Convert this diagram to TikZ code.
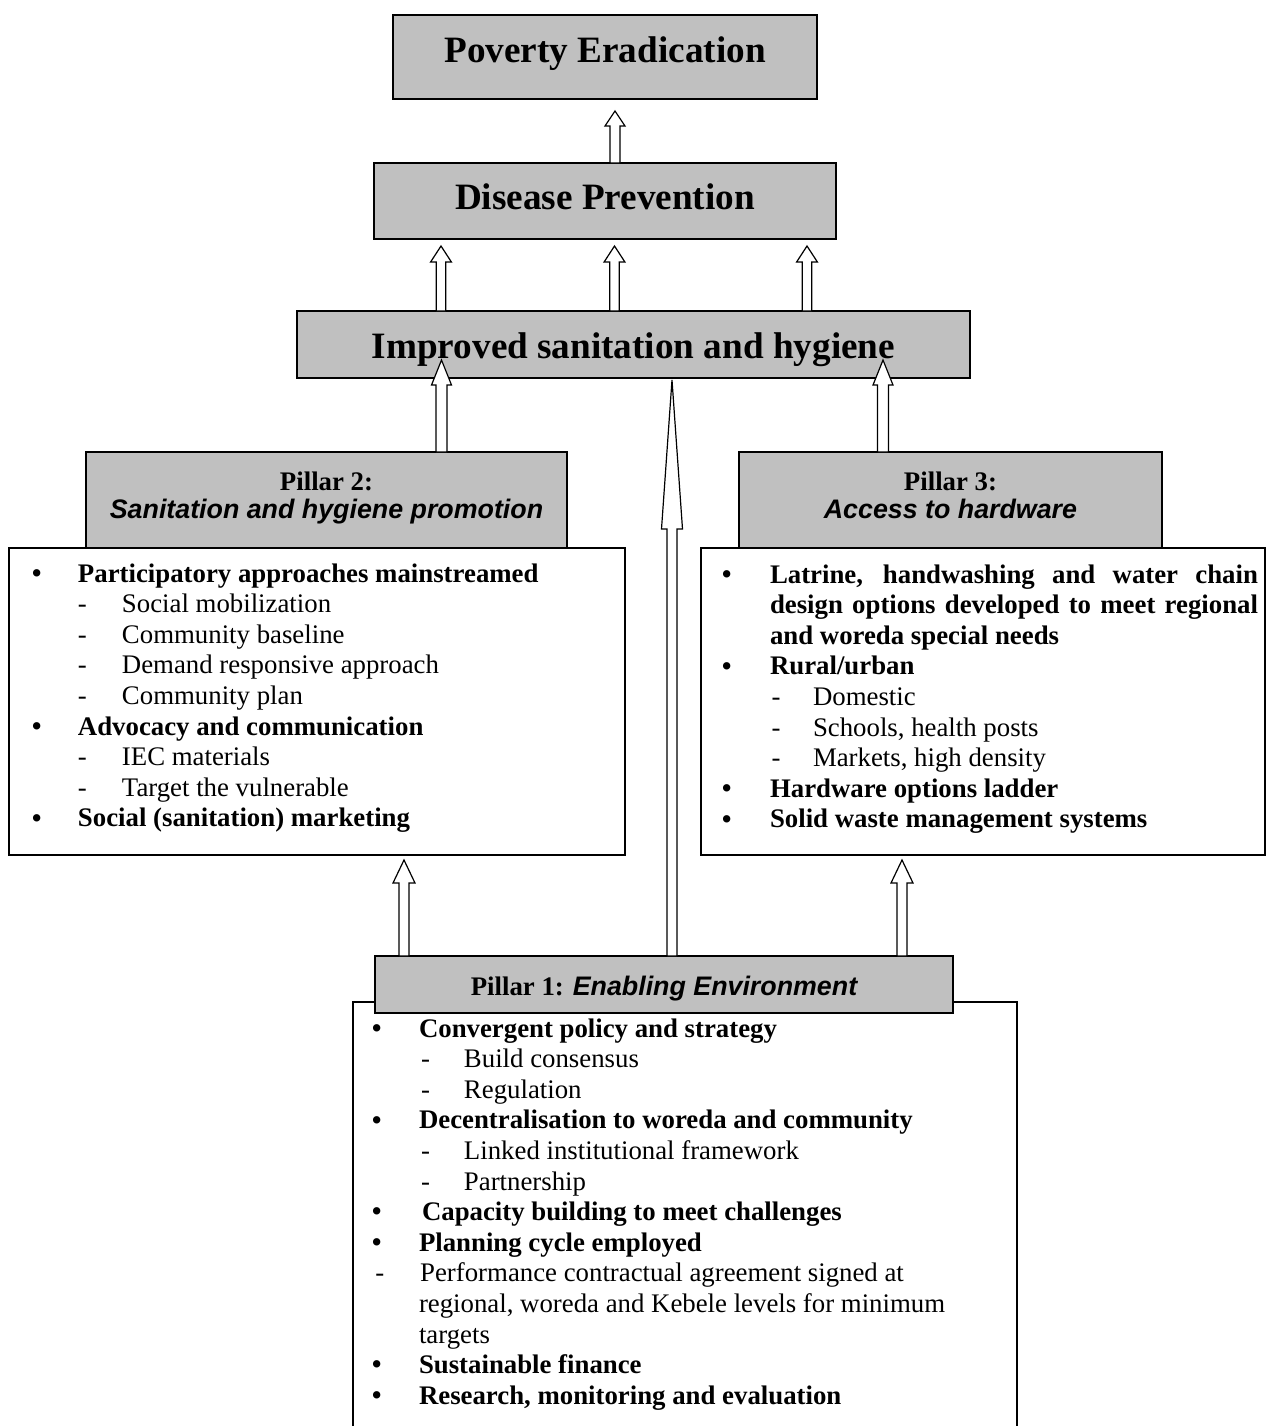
\documentclass[tikz,border=0pt]{standalone}
\usepackage{fontspec}
\usepackage{graphicx}
\setmainfont{Liberation Serif}
\newfontfamily\arialfam{Liberation Sans}
\usetikzlibrary{calc}

\definecolor{boxgray}{RGB}{192,192,192}

% list layout inside the framed boxes
\newlength\bulw   % bullet column
\newlength\dashw  % dash column
\newlength\dashoff
\newcommand\bigbul{\raisebox{-0.6pt}{\scalebox{1.15}{\textbullet}}}
\newcommand\bitem[1]{\par\leftskip=\bulw\noindent\llap{\makebox[\bulw][l]{\bigbul}}\textbf{#1}\par}
\newcommand\ditem[1]{\par\leftskip=\bulw\noindent\hspace*{\dashoff}\makebox[\dashw][l]{-}#1\par}
\newcommand\bodyfont{\fontsize{13.4pt}{15.3pt}\selectfont}
\newcommand\titlefont{\fontsize{18.6pt}{22pt}\selectfont\bfseries}
\newcommand\sansbi{\arialfam\bfseries\itshape}

\hyphenpenalty=10000
\exhyphenpenalty=10000
\tolerance=10000
\hbadness=10000
\lineskiplimit=-20pt

\begin{document}
\begin{tikzpicture}[x=0.5pt,y=-0.5pt,
  every node/.style={inner sep=0pt, outer sep=0pt},
  graybox/.style={draw=black, line width=0.7pt, fill=boxgray},
  whitebox/.style={draw=black, line width=0.7pt, fill=white},
  hollow/.style n args={3}{draw=black, line width=0.6pt, fill=white, line join=miter,
    to path={let \p1=(\tikztostart), \p2=(\tikztotarget) in
      (\x1-#3,\y1) -- (\x1-#3,\y2-#1) -- (\x1-#2,\y2-#1) -- (\x2,\y2)
      -- (\x1+#2,\y2-#1) -- (\x1+#3,\y2-#1) -- (\x1+#3,\y1) -- cycle}}]

\useasboundingbox (0,0) rectangle (1266,1426);
\clip (0,0) rectangle (1266,1426);

% ---- framed lists ----
\node[whitebox, anchor=north west, text height=17pt, text depth=136.5pt] (p2c) at (9,548)
  {\makebox[308pt][l]{\hspace*{11.15pt}\parbox[t]{285pt}{\bodyfont
   \setlength\bulw{23.35pt}\setlength\dashw{22pt}\setlength\dashoff{0pt}
   \bitem{Participatory approaches mainstreamed}
   \ditem{Social mobilization}
   \ditem{Community baseline}
   \ditem{Demand responsive approach}
   \ditem{Community plan}
   \bitem{Advocacy and communication}
   \ditem{IEC materials}
   \ditem{Target the vulnerable}
   \bitem{Social (sanitation) marketing}}}};

\node[whitebox, anchor=north west, text height=17.5pt, text depth=136pt] (p3c) at (701,548)
  {\makebox[282pt][l]{\hspace*{10.15pt}\parbox[t]{268.35pt}{\bodyfont
   \setlength\bulw{24.35pt}\setlength\dashw{20.65pt}\setlength\dashoff{0.85pt}
   \bitem{Latrine, handwashing and water chain\linebreak design options developed to meet regional\linebreak and woreda special needs}
   \bitem{Rural/urban}
   \ditem{Domestic}
   \ditem{Schools, health posts}
   \ditem{Markets, high density}
   \bitem{Hardware options ladder}
   \bitem{Solid waste management systems}}}};

\node[whitebox, anchor=north west, text height=17.5pt, text depth=201.5pt] (p1c) at (353,1002)
  {\makebox[332pt][l]{\hspace*{9.15pt}\parbox[t]{315pt}{\bodyfont
   \setlength\bulw{23.85pt}\setlength\dashw{21.5pt}\setlength\dashoff{1pt}
   \bitem{Convergent policy and strategy}
   \ditem{Build consensus}
   \ditem{Regulation}
   \bitem{Decentralisation to woreda and community}
   \ditem{Linked institutional framework}
   \ditem{Partnership}
   \bitem{\hspace*{1.5pt}Capacity building to meet challenges}
   \bitem{Planning cycle employed}
   \par\leftskip=\bulw\noindent\llap{\makebox[\bulw][l]{\hspace*{2pt}-}}\hspace*{0.6pt}Performance contractual agreement signed at\\
   regional, woreda and Kebele levels for minimum\\
   targets\par
   \bitem{Sustainable finance}
   \bitem{Research, monitoring and evaluation}}}};

% ---- grey headers ----
\node[graybox, anchor=north, minimum width=240.5pt, text height=33pt, text depth=15pt] (p2h) at (326.5,452)
  {\parbox[b]{240.5pt}{\centering\bodyfont\baselineskip=14pt
   \textbf{Pillar 2:}\\ {\sansbi Sanitation and hygiene promotion}}};

\node[graybox, anchor=north, minimum width=211.5pt, text height=33pt, text depth=15pt] (p3h) at (950.5,452)
  {\parbox[b]{211.5pt}{\centering\bodyfont\baselineskip=14pt
   \textbf{Pillar 3:}\\ {\sansbi Access to hardware}}};

\node[graybox, anchor=north, minimum width=289pt, text height=19.5pt, text depth=9pt] (p1h) at (664,956)
  {\bodyfont\textbf{Pillar 1:} {\sansbi Enabling Environment}};

% ---- outcome boxes ----
\node[graybox, anchor=north, minimum width=212pt, text height=23.5pt, text depth=18.5pt] (pov) at (605,15)
  {\titlefont Poverty Eradication};
\node[graybox, anchor=north, minimum width=231pt, text height=23pt, text depth=15pt] (dis) at (605,163)
  {\titlefont Disease Prevention};
\node[graybox, anchor=north, minimum width=336.5pt, text height=23.5pt, text depth=10pt] (imp) at (633.5,311)
  {\titlefont Improved sanitation and hygiene};

% ---- hollow block arrows ----
\coordinate (tPov) at (615,111);
\draw[hollow={7.5pt}{5pt}{2.5pt}] (dis.north -| tPov) to (tPov);

\coordinate (tD1) at (441,246);
\coordinate (tD2) at (614.5,246);
\coordinate (tD3) at (807,246);
\draw[hollow={8pt}{5.2pt}{2.4pt}] (imp.north -| tD1) to (tD1);
\draw[hollow={8pt}{5.2pt}{2.4pt}] (imp.north -| tD2) to (tD2);
\draw[hollow={8pt}{5.2pt}{2.4pt}] (imp.north -| tD3) to (tD3);

\coordinate (tI2) at (441.5,360);
\coordinate (tI3) at (883,360);
\draw[hollow={12.5pt}{5pt}{2.75pt}] (p2h.north -| tI2) to (tI2);
\draw[hollow={12.5pt}{5pt}{2.75pt}] (p3h.north -| tI3) to (tI3);

\coordinate (tL) at (672,380);
\draw[hollow={74.5pt}{5.25pt}{2.5pt}] (p1h.north -| tL) to (tL);

\coordinate (tP2) at (404,860);
\coordinate (tP3) at (902,860);
\draw[hollow={11.5pt}{5.5pt}{2.5pt}] (p1h.north -| tP2) to (tP2);
\draw[hollow={11.5pt}{5.5pt}{2.5pt}] (p1h.north -| tP3) to (tP3);

\end{tikzpicture}
\end{document}
